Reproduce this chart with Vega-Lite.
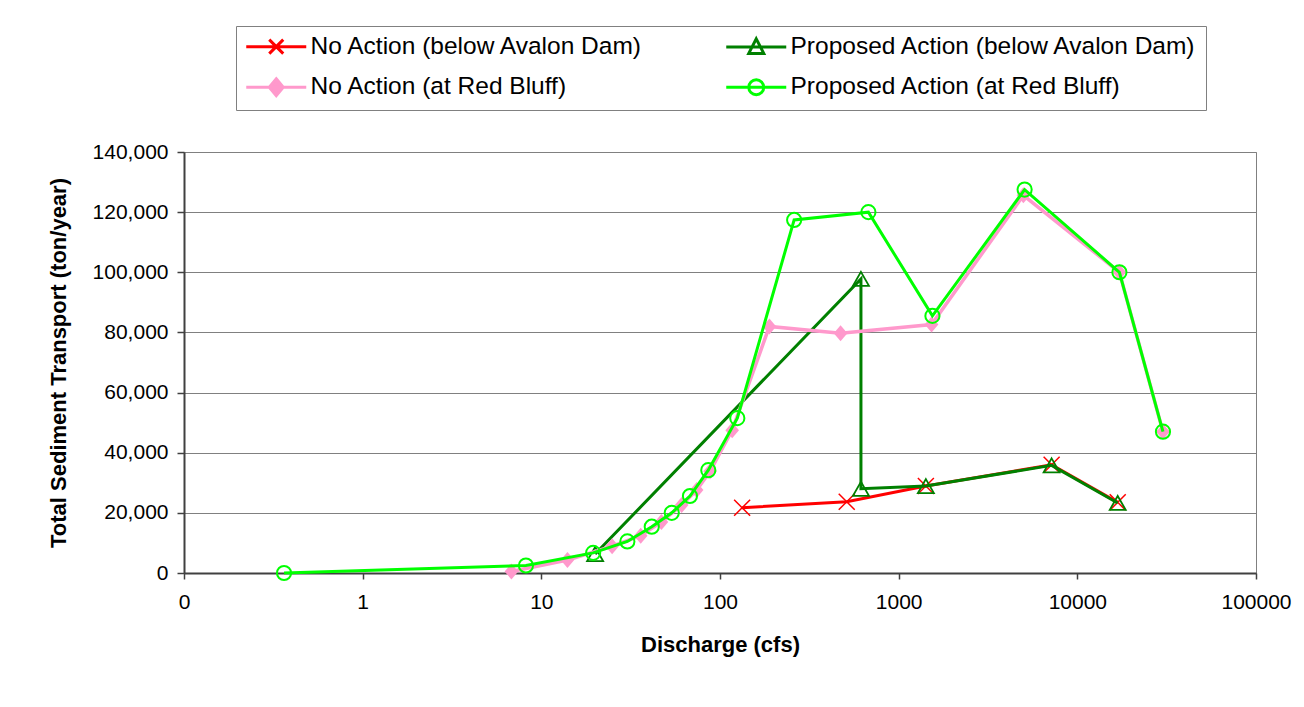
{
  "$schema": "https://vega.github.io/schema/vega-lite/v6.json",
  "width": 1072,
  "height": 421,
  "autosize": {"type": "none"},
  "padding": {"left": 184, "top": 152, "right": 48, "bottom": 134},
  "background": "white",
  "config": {
    "font": "Liberation Sans",
    "view": {"stroke": "#808080", "strokeWidth": 1},
    "axis": {
      "labelFont": "Liberation Sans",
      "titleFont": "Liberation Sans",
      "labelColor": "black",
      "titleColor": "black",
      "domainColor": "#404040",
      "domainWidth": 2,
      "tickColor": "#404040",
      "tickWidth": 1.5,
      "tickSize": 6,
      "labelFontSize": 21,
      "titleFontSize": 22,
      "titleFontWeight": "bold"
    },
    "legend": {"labelFont": "Liberation Sans"}
  },
  "data": {
    "values": [
      {"series": "No Action (below Avalon Dam)", "q": 133, "t": 21700},
      {"series": "No Action (below Avalon Dam)", "q": 512, "t": 23700},
      {"series": "No Action (below Avalon Dam)", "q": 1420, "t": 28900},
      {"series": "No Action (below Avalon Dam)", "q": 7180, "t": 36000},
      {"series": "No Action (below Avalon Dam)", "q": 16830, "t": 23500},
      {"series": "Proposed Action (below Avalon Dam)", "q": 20, "t": 6300},
      {"series": "Proposed Action (below Avalon Dam)", "q": 615, "t": 97800},
      {"series": "Proposed Action (below Avalon Dam)", "q": 615, "t": 28000},
      {"series": "Proposed Action (below Avalon Dam)", "q": 1420, "t": 28900},
      {"series": "Proposed Action (below Avalon Dam)", "q": 7180, "t": 35800},
      {"series": "Proposed Action (below Avalon Dam)", "q": 16830, "t": 23300},
      {"series": "No Action (at Red Bluff)", "q": 6.8, "t": 500},
      {"series": "No Action (at Red Bluff)", "q": 14, "t": 4300},
      {"series": "No Action (at Red Bluff)", "q": 24.9, "t": 8900},
      {"series": "No Action (at Red Bluff)", "q": 36, "t": 12400},
      {"series": "No Action (at Red Bluff)", "q": 47, "t": 17000},
      {"series": "No Action (at Red Bluff)", "q": 61, "t": 22600},
      {"series": "No Action (at Red Bluff)", "q": 74, "t": 27600},
      {"series": "No Action (at Red Bluff)", "q": 88, "t": 33800},
      {"series": "No Action (at Red Bluff)", "q": 117, "t": 47500},
      {"series": "No Action (at Red Bluff)", "q": 189, "t": 82000},
      {"series": "No Action (at Red Bluff)", "q": 473, "t": 79700},
      {"series": "No Action (at Red Bluff)", "q": 1528, "t": 82600},
      {"series": "No Action (at Red Bluff)", "q": 4990, "t": 125600},
      {"series": "No Action (at Red Bluff)", "q": 17200, "t": 100000},
      {"series": "No Action (at Red Bluff)", "q": 30150, "t": 47000},
      {"series": "Proposed Action (at Red Bluff)", "q": 0.363, "t": 0},
      {"series": "Proposed Action (at Red Bluff)", "q": 8.2, "t": 2500},
      {"series": "Proposed Action (at Red Bluff)", "q": 19.5, "t": 6700},
      {"series": "Proposed Action (at Red Bluff)", "q": 30.3, "t": 10500},
      {"series": "Proposed Action (at Red Bluff)", "q": 41.5, "t": 15400},
      {"series": "Proposed Action (at Red Bluff)", "q": 53.7, "t": 20000},
      {"series": "Proposed Action (at Red Bluff)", "q": 67.9, "t": 25600},
      {"series": "Proposed Action (at Red Bluff)", "q": 86, "t": 34200},
      {"series": "Proposed Action (at Red Bluff)", "q": 125, "t": 51500},
      {"series": "Proposed Action (at Red Bluff)", "q": 260, "t": 117400},
      {"series": "Proposed Action (at Red Bluff)", "q": 677, "t": 120000},
      {"series": "Proposed Action (at Red Bluff)", "q": 1545, "t": 85500},
      {"series": "Proposed Action (at Red Bluff)", "q": 5070, "t": 127500},
      {"series": "Proposed Action (at Red Bluff)", "q": 17200, "t": 100000},
      {"series": "Proposed Action (at Red Bluff)", "q": 30150, "t": 47000}
    ]
  },
  "encoding": {
    "x": {
      "field": "q",
      "type": "quantitative",
      "scale": {"type": "log", "domain": [0.1, 100000]},
      "axis": {
        "title": "Discharge (cfs)",
        "values": [0.1, 1, 10, 100, 1000, 10000, 100000],
        "labelExpr": "datum.value < 1 ? '0' : format(datum.value, 'd')",
        "grid": false,
        "labelPadding": 12,
        "titlePadding": 22,
        "labelFlush": false,
        "labelOverlap": false
      }
    },
    "y": {
      "field": "t",
      "type": "quantitative",
      "scale": {"domain": [0, 140000]},
      "axis": {
        "title": "Total Sediment Transport (ton/year)",
        "values": [0, 20000, 40000, 60000, 80000, 100000, 120000, 140000],
        "format": ",.0f",
        "grid": true,
        "gridColor": "#808080",
        "gridWidth": 1,
        "tickSize": 7,
        "labelPadding": 9,
        "titlePadding": 22
      }
    },
    "color": {
      "field": "series",
      "type": "nominal",
      "scale": {
        "domain": ["No Action (below Avalon Dam)", "Proposed Action (below Avalon Dam)", "No Action (at Red Bluff)", "Proposed Action (at Red Bluff)"],
        "range": ["#FF0000", "#008000", "#FF99CC", "#00FF00"]
      },
      "legend": {
        "title": null,
        "orient": "none",
        "direction": "horizontal",
        "gridAlign": "each",
        "legendX": 52,
        "legendY": -126,
        "columns": 2,
        "columnPadding": 76,
        "rowPadding": 12,
        "padding": 8,
        "strokeColor": "#808080",
        "fillColor": "white",
        "symbolSize": 400,
        "symbolStrokeWidth": 3,
        "symbolOffset": 20,
        "labelOffset": 22,
        "labelFontSize": 24.5,
        "labelColor": "black",
        "labelLimit": 700,
        "encode": {
          "symbols": {
            "update": {
              "shape": {"signal": "datum.value == 'No Action (below Avalon Dam)' ? 'M-3,0H3M-0.7,-0.7L0.7,0.7M-0.7,0.7L0.7,-0.7' : datum.value == 'Proposed Action (below Avalon Dam)' ? 'M-3,0H3M0,-0.8L0.75,0.65L-0.75,0.65Z' : datum.value == 'No Action (at Red Bluff)' ? 'M-3,0H3M0,-0.85L0.7,0L0,0.85L-0.7,0Z' : 'M-3,0H3M0.75,0A0.75,0.75,0,1,1,-0.75,0A0.75,0.75,0,1,1,0.75,0Z'"},
              "fill": {"signal": "datum.value == 'No Action (at Red Bluff)' ? '#FF99CC' : 'transparent'"},
              "strokeWidth": {"value": 3},
              "opacity": {"value": 1}
            }
          }
        }
      }
    },
    "order": {"value": null}
  },
  "layer": [
    {
      "transform": [{"filter": "datum.series == 'No Action (below Avalon Dam)'"}],
      "mark": {"type": "line", "strokeWidth": 3}
    },
    {
      "transform": [{"filter": "datum.series == 'No Action (below Avalon Dam)'"}],
      "mark": {"type": "point", "filled": false, "shape": "M-1,-1L1,1M-1,1L1,-1", "size": 256, "strokeWidth": 1.5, "opacity": 1},
      "encoding": {"color": {"value": "#FF0000"}}
    },
    {
      "transform": [{"filter": "datum.series == 'Proposed Action (below Avalon Dam)'"}],
      "mark": {"type": "line", "strokeWidth": 3}
    },
    {
      "transform": [{"filter": "datum.series == 'Proposed Action (below Avalon Dam)'"}],
      "mark": {"type": "point", "filled": false, "shape": "M0,-0.875L1,0.875L-1,0.875Z", "size": 256, "strokeWidth": 1.8, "opacity": 1},
      "encoding": {"color": {"value": "#008000"}}
    },
    {
      "transform": [{"filter": "datum.series == 'No Action (at Red Bluff)'"}],
      "mark": {"type": "line", "strokeWidth": 3.5}
    },
    {
      "transform": [{"filter": "datum.series == 'No Action (at Red Bluff)'"}],
      "mark": {"type": "point", "filled": true, "shape": "M0,-1L0.85,0L0,1L-0.85,0Z", "size": 256, "opacity": 1},
      "encoding": {"color": {"value": "#FF99CC"}}
    },
    {
      "transform": [{"filter": "datum.series == 'Proposed Action (at Red Bluff)'"}],
      "mark": {"type": "line", "strokeWidth": 3}
    },
    {
      "transform": [{"filter": "datum.series == 'Proposed Action (at Red Bluff)'"}],
      "mark": {"type": "point", "filled": false, "shape": "circle", "size": 201, "strokeWidth": 2, "opacity": 1},
      "encoding": {"color": {"value": "#00FF00"}}
    }
  ]
}
